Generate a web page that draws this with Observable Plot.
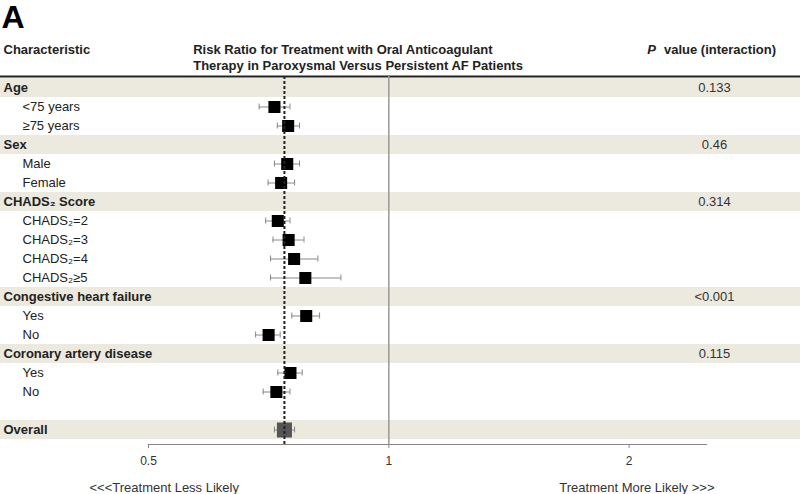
<!DOCTYPE html>
<html>
<head>
<meta charset="utf-8">
<script src="https://cdn.jsdelivr.net/npm/d3@7"></script>
<script src="https://cdn.jsdelivr.net/npm/@observablehq/plot@0.6"></script>
<style>
  html, body { margin: 0; padding: 0; background: white; }
</style>
</head>
<body>
<div id="chart"></div>
<script>
// Row labels (top to bottom)
const rowLabels = ["Age", "<75 years", "≥75 years", "Sex", "Male", "Female",
  "CHADS₂ Score", "CHADS₂=2", "CHADS₂=3", "CHADS₂=4", "CHADS₂≥5",
  "Congestive heart failure", "Yes", "No", "Coronary artery disease", "Yes", "No", "", "Overall"];
const isHeader = [1,0,0,1,0,0,1,0,0,0,0,1,0,0,1,0,0,0,1];
// Risk ratios and 95% CI
const riskRatio = [null,0.719,0.748,null,0.746,0.733,null,0.726,0.749,0.761,0.786,null,0.788,0.707,null,0.753,0.723,null,0.740];
const ciLow     = [null,0.688,0.725,null,0.719,0.706,null,0.701,0.716,0.711,0.711,null,0.756,0.681,null,0.726,0.696,null,0.719];
const ciHigh    = [null,0.752,0.773,null,0.773,0.762,null,0.752,0.783,0.815,0.871,null,0.819,0.731,null,0.779,0.752,null,0.762];
// P values (interaction)
const pValues = ["0.133","","","0.46","","","0.314","","","","","<0.001","","","0.115","","","",""];
// Axis
const xDomain = [0.5, 2.5];
const xTicks = [0.5, 1, 2];
const nullValue = [1];

const data = rowLabels.map((label, i) => ({
  id: i, label, header: isHeader[i] === 1, rr: riskRatio[i], lo: ciLow[i], hi: ciHigh[i], p: pValues[i]
}));
const est = data.filter(d => d.rr != null);
const overall = data.filter(d => d.label === "Overall");
const subgroups = est.filter(d => d.label !== "Overall");

const chart = Plot.plot({
  width: 800,
  height: 494,
  marginTop: 76,
  marginBottom: 50,
  marginLeft: 148,
  marginRight: 94,
  style: {fontFamily: "'Liberation Sans', Arial, sans-serif", background: "white", color: "#222"},
  x: {type: "log", domain: xDomain, axis: null},
  y: {type: "band", domain: data.map(d => d.id), range: [77, 440], padding: 0, axis: null},
  marks: [
    // shaded header bands
    Plot.barX(data.filter(d => d.header), {
      x1: () => xDomain[0], x2: () => xDomain[1], y: "id",
      fill: "#ECE9DF", insetLeft: -148, insetRight: -94
    }),
    // header rule
    Plot.frame({anchor: "top", stroke: "#222", strokeWidth: 2, insetLeft: -148, insetRight: -94}),
    // x axis line
    Plot.frame({anchor: "bottom", stroke: "#888", strokeWidth: 1.2}),
    Plot.axisX({ticks: xTicks, tickFormat: d => String(d), tickSize: 4, tickPadding: 8,
      fontSize: 12, stroke: "#888", fill: "#333", label: null}),
    // line of no effect
    Plot.ruleX(nullValue, {stroke: "#999", strokeWidth: 1.5}),
    // confidence intervals
    Plot.ruleY(est, {y: "id", x1: "lo", x2: "hi", stroke: "#888", strokeWidth: 1}),
    Plot.tickX(est, {x: "lo", y: "id", stroke: "#888", strokeWidth: 1, insetTop: 6.5, insetBottom: 6.5}),
    Plot.tickX(est, {x: "hi", y: "id", stroke: "#888", strokeWidth: 1, insetTop: 6.5, insetBottom: 6.5}),
    // point estimates
    Plot.dot(subgroups, {x: "rr", y: "id", symbol: "square", r: 6.8, fill: "black"}),
    Plot.dot(overall, {x: "rr", y: "id", symbol: "square", r: 8.5, fill: "#555"}),
    // overall dashed line
    Plot.ruleX(overall, {x: "rr", stroke: "#222", strokeWidth: 2, strokeDasharray: "3,2"}),
    // row labels
    Plot.text(data.filter(d => d.header), {y: "id", text: "label", frameAnchor: "left", dx: -145,
      textAnchor: "start", fontSize: 13, fontWeight: "bold", fill: "#222"}),
    Plot.text(data.filter(d => !d.header), {y: "id", text: "label", frameAnchor: "left", dx: -126,
      textAnchor: "start", fontSize: 13, fill: "#222"}),
    // p values
    Plot.text(data.filter(d => d.p), {y: "id", text: "p", frameAnchor: "right", dx: 8,
      textAnchor: "middle", fontSize: 13, fill: "#333"}),
    // headings
    Plot.text(["A"], {frameAnchor: "top-left", lineAnchor: "middle", textAnchor: "start",
      dx: -147, dy: -59, fontSize: 32, fontWeight: "bold", fill: "black"}),
    Plot.text(["Characteristic"], {frameAnchor: "top-left", lineAnchor: "middle", textAnchor: "start",
      dx: -145, dy: -27, fontSize: 13, fontWeight: "bold", fill: "#222"}),
    Plot.text(["Risk Ratio for Treatment with Oral Anticoagulant"], {frameAnchor: "top-left", lineAnchor: "middle",
      textAnchor: "start", dx: 44.7, dy: -27, fontSize: 13, fontWeight: "bold", fill: "#222"}),
    Plot.text(["Therapy in Paroxysmal Versus Persistent AF Patients"], {frameAnchor: "top-left", lineAnchor: "middle",
      textAnchor: "start", dx: 44.7, dy: -11, fontSize: 13, fontWeight: "bold", fill: "#222"}),
    Plot.text(["P"], {frameAnchor: "top-right", lineAnchor: "middle", textAnchor: "start",
      dx: -59.3, dy: -27, fontSize: 13, fontWeight: "bold", fontStyle: "italic", fill: "#222"}),
    Plot.text(["value (interaction)"], {frameAnchor: "top-right", lineAnchor: "middle", textAnchor: "start",
      dx: -42.5, dy: -27, fontSize: 13, fontWeight: "bold", fill: "#222"}),
    // direction labels
    Plot.text(["<<<Treatment Less Likely"], {frameAnchor: "bottom-left", lineAnchor: "middle", textAnchor: "start",
      dx: -59, dy: 43, fontSize: 13, fill: "#333"}),
    Plot.text(["Treatment More Likely >>>"], {frameAnchor: "bottom-right", lineAnchor: "middle", textAnchor: "end",
      dx: 8, dy: 43, fontSize: 13, fill: "#333"})
  ]
});
document.getElementById("chart").append(chart);
</script>
</body>
</html>
